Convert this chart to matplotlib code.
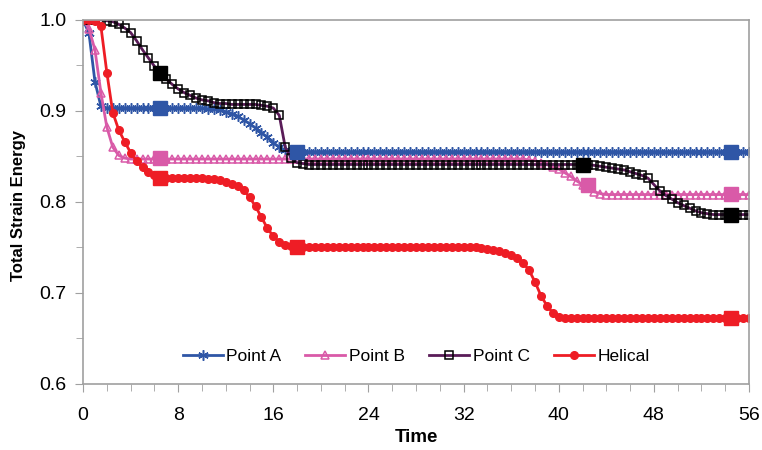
import numpy as np
import matplotlib
matplotlib.use("Agg")
import matplotlib.pyplot as plt
from matplotlib.ticker import MultipleLocator

plt.rcParams['font.family'] = ['Liberation Sans', 'DejaVu Sans']

# sampling times (every 0.5 time units, 0..56)
time = np.arange(0, 56.01, 0.5)

# values, one row per 8 time units
point_a = [
    1.000, 0.985, 0.932, 0.905, 0.903, 0.903, 0.903, 0.903, 0.903, 0.903, 0.903, 0.903, 0.903, 0.903, 0.903, 0.903,
    0.903, 0.903, 0.903, 0.903, 0.903, 0.902, 0.902, 0.901, 0.899, 0.897, 0.894, 0.890, 0.886, 0.881, 0.876, 0.871,
    0.865, 0.860, 0.857, 0.856, 0.855, 0.855, 0.855, 0.855, 0.855, 0.855, 0.855, 0.855, 0.855, 0.855, 0.855, 0.855,
    0.855, 0.855, 0.855, 0.855, 0.855, 0.855, 0.855, 0.855, 0.855, 0.855, 0.855, 0.855, 0.855, 0.855, 0.855, 0.855,
    0.855, 0.855, 0.855, 0.855, 0.855, 0.855, 0.855, 0.855, 0.855, 0.855, 0.855, 0.855, 0.855, 0.855, 0.855, 0.855,
    0.855, 0.855, 0.855, 0.855, 0.855, 0.855, 0.855, 0.855, 0.855, 0.855, 0.855, 0.855, 0.855, 0.855, 0.855, 0.855,
    0.855, 0.855, 0.855, 0.855, 0.855, 0.855, 0.855, 0.855, 0.855, 0.855, 0.855, 0.855, 0.855, 0.855, 0.855, 0.855,
    0.855,
]
point_b = [
    1.000, 0.990, 0.967, 0.920, 0.882, 0.860, 0.851, 0.848, 0.847, 0.847, 0.847, 0.847, 0.847, 0.847, 0.847, 0.847,
    0.847, 0.847, 0.847, 0.847, 0.847, 0.847, 0.847, 0.847, 0.847, 0.847, 0.847, 0.847, 0.847, 0.847, 0.847, 0.847,
    0.847, 0.847, 0.847, 0.847, 0.847, 0.847, 0.847, 0.847, 0.847, 0.847, 0.847, 0.847, 0.847, 0.847, 0.847, 0.847,
    0.847, 0.847, 0.847, 0.847, 0.847, 0.847, 0.847, 0.847, 0.847, 0.847, 0.847, 0.847, 0.847, 0.847, 0.847, 0.847,
    0.847, 0.847, 0.847, 0.847, 0.847, 0.847, 0.847, 0.847, 0.847, 0.847, 0.847, 0.846, 0.845, 0.843, 0.841, 0.838,
    0.836, 0.832, 0.828, 0.823, 0.819, 0.815, 0.811, 0.809, 0.808, 0.808, 0.808, 0.808, 0.808, 0.808, 0.808, 0.808,
    0.808, 0.808, 0.808, 0.808, 0.808, 0.808, 0.808, 0.808, 0.808, 0.808, 0.808, 0.808, 0.808, 0.808, 0.808, 0.808,
    0.808,
]
point_c = [
    1.000, 1.000, 1.000, 1.000, 0.999, 0.998, 0.995, 0.991, 0.986, 0.977, 0.967, 0.958, 0.949, 0.942, 0.935, 0.929,
    0.924, 0.920, 0.917, 0.914, 0.912, 0.911, 0.909, 0.908, 0.908, 0.907, 0.907, 0.907, 0.907, 0.907, 0.906, 0.905,
    0.903, 0.895, 0.860, 0.848, 0.843, 0.842, 0.841, 0.841, 0.841, 0.841, 0.841, 0.841, 0.841, 0.841, 0.841, 0.841,
    0.841, 0.841, 0.841, 0.841, 0.841, 0.841, 0.841, 0.841, 0.841, 0.841, 0.841, 0.841, 0.841, 0.841, 0.841, 0.841,
    0.841, 0.841, 0.841, 0.841, 0.841, 0.841, 0.841, 0.841, 0.841, 0.841, 0.841, 0.841, 0.841, 0.841, 0.841, 0.841,
    0.841, 0.841, 0.841, 0.841, 0.841, 0.841, 0.840, 0.839, 0.838, 0.837, 0.836, 0.835, 0.833, 0.831, 0.829, 0.826,
    0.819, 0.812, 0.807, 0.803, 0.799, 0.796, 0.793, 0.790, 0.788, 0.787, 0.786, 0.786, 0.786, 0.786, 0.786, 0.786,
    0.786,
]
helical = [
    1.000, 1.000, 0.999, 0.993, 0.942, 0.898, 0.879, 0.866, 0.854, 0.845, 0.838, 0.833, 0.829, 0.827, 0.826, 0.826,
    0.826, 0.826, 0.826, 0.826, 0.826, 0.825, 0.825, 0.824, 0.822, 0.820, 0.817, 0.813, 0.805, 0.795, 0.783, 0.771,
    0.762, 0.756, 0.753, 0.751, 0.750, 0.750, 0.750, 0.750, 0.750, 0.750, 0.750, 0.750, 0.750, 0.750, 0.750, 0.750,
    0.750, 0.750, 0.750, 0.750, 0.750, 0.750, 0.750, 0.750, 0.750, 0.750, 0.750, 0.750, 0.750, 0.750, 0.750, 0.750,
    0.750, 0.750, 0.750, 0.749, 0.748, 0.747, 0.746, 0.744, 0.742, 0.738, 0.733, 0.725, 0.712, 0.697, 0.686, 0.678,
    0.674, 0.672, 0.672, 0.672, 0.672, 0.672, 0.672, 0.672, 0.672, 0.672, 0.672, 0.672, 0.672, 0.672, 0.672, 0.672,
    0.672, 0.672, 0.672, 0.672, 0.672, 0.672, 0.672, 0.672, 0.672, 0.672, 0.672, 0.672, 0.672, 0.672, 0.672, 0.672,
    0.672,
]

# big highlighted squares
a_big_t = [6.5, 18.0, 54.5]
a_big_v = [0.903, 0.855, 0.855]
b_big_t = [6.5, 42.5, 54.5]
b_big_v = [0.848, 0.819, 0.809]
c_big_t = [6.5, 42.0, 54.5]
c_big_v = [0.942, 0.841, 0.786]
h_big_t = [6.5, 18.0, 54.5]
h_big_v = [0.826, 0.750, 0.672]

blue = '#2f56a6'
pink = '#d95aa8'
purple = '#5a1c58'
red = '#ee1d25'

fig = plt.figure(figsize=(7.62, 4.5), dpi=100)
ax = fig.add_axes([0.109, 0.147, 0.874, 0.809])

ax.plot(time, point_a, color=blue, lw=2.0, marker=(6, 2, 0), ms=7.5,
        mew=1.1, mec=blue, label='Point A')
ax.plot(time, point_b, color=pink, lw=2.0, marker='^', ms=6, mfc='none',
        mew=1.1, mec=pink, label='Point B')
ax.plot(time, point_c, color=purple, lw=2.0, marker='s', ms=5.2, mfc='none',
        mew=1.1, mec='black', label='Point C')
ax.plot(time, helical, color=red, lw=2.0, marker='o', ms=5.5, mfc=red,
        mec=red, label='Helical')

ax.plot(a_big_t, a_big_v, ls='none', marker='s', ms=10.5, color=blue)
ax.plot(b_big_t, b_big_v, ls='none', marker='s', ms=10.5, color=pink)
ax.plot(c_big_t, c_big_v, ls='none', marker='s', ms=10.5, color='black')
ax.plot(h_big_t, h_big_v, ls='none', marker='s', ms=10.5, color=red)

ax.set_xlim(0, 56)
ax.set_ylim(0.6, 1.0)
ax.xaxis.set_major_locator(MultipleLocator(8))
ax.xaxis.set_minor_locator(MultipleLocator(2))
ax.yaxis.set_major_locator(MultipleLocator(0.1))
ax.yaxis.set_minor_locator(MultipleLocator(0.05))
ax.yaxis.set_major_formatter(matplotlib.ticker.FormatStrFormatter('%.1f'))

for s in ax.spines.values():
    s.set_color('#a0a0a0')
    s.set_linewidth(1.2)
ax.tick_params(which='both', direction='out', color='#a0a0a0', labelsize=14)
ax.tick_params(which='major', length=6)
ax.tick_params(which='minor', length=5)
ax.tick_params(axis='x', pad=11)
ax.tick_params(axis='y', pad=6)

ax.set_xlabel('Time', fontsize=13.5, fontweight='bold', labelpad=3)
ax.set_ylabel('Total Strain Energy', fontsize=12, fontweight='bold')
ax.yaxis.set_label_coords(-0.085, 0.49)

ax.legend(loc='center', bbox_to_anchor=(0.5, 0.074), ncol=4, frameon=False,
          fontsize=12.5, handlelength=2.3, columnspacing=1.4, handletextpad=0.2)

fig.savefig('out.png', dpi=100)
